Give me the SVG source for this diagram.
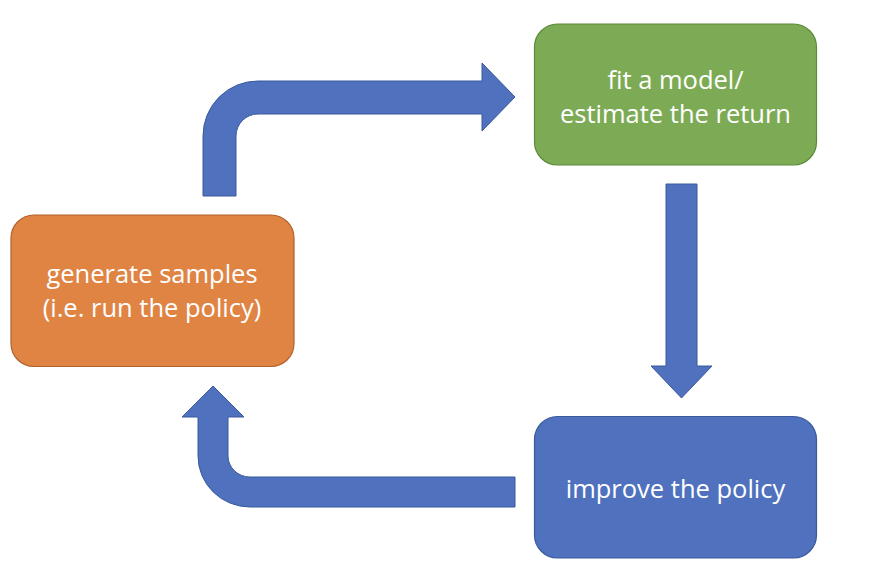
<svg xmlns="http://www.w3.org/2000/svg" width="884" height="580" viewBox="0 0 884 580">
<style>
.lbl{font-family:"Open Sans",Lato,"Liberation Sans",sans-serif;font-size:25.5px;fill:#ffffff;text-anchor:middle}
.arrow{fill:#4F71BE;stroke:#3A5A9C;stroke-width:1}
</style>
<rect width="884" height="580" fill="#ffffff"/>
<g id="connectors">
<path class="arrow" d="M203,196 L203,136 A55,55 0 0 1 258,81 L482,81 L482,63 L515,97 L482,131 L482,114 L258,114 A22,22 0 0 0 236,136 L236,196 Z"/>
<path class="arrow" d="M666,184 L697,184 L697,366 L712,366 L681.5,398 L651,366 L666,366 Z"/>
<path class="arrow" d="M515,477 L250,477 A22,21 0 0 1 228,456 L228,417 L244,417 L213,386 L182,417 L198,417 L198,456 A52,51 0 0 0 250,507 L515,507 Z"/>
</g>
<g id="fit">
<rect x="534.5" y="24" width="282" height="141" rx="23" fill="#7DAB55" stroke="#5B8A3A" stroke-width="1.2"/>
<text class="lbl" x="675.5" y="89">fit a model/</text>
<text class="lbl" x="675.5" y="123">estimate the return</text>
</g>
<g id="generate">
<rect x="11" y="215" width="283" height="151.5" rx="23" fill="#E08444" stroke="#B0612C" stroke-width="1.2"/>
<text class="lbl" x="152" y="283">generate samples</text>
<text class="lbl" x="152" y="317">(i.e. run the policy)</text>
</g>
<g id="improve">
<rect x="534.5" y="416.5" width="282" height="141.5" rx="23" fill="#4F71BE" stroke="#3A5A9C" stroke-width="1.2"/>
<text class="lbl" x="675.5" y="498">improve the policy</text>
</g>
</svg>
